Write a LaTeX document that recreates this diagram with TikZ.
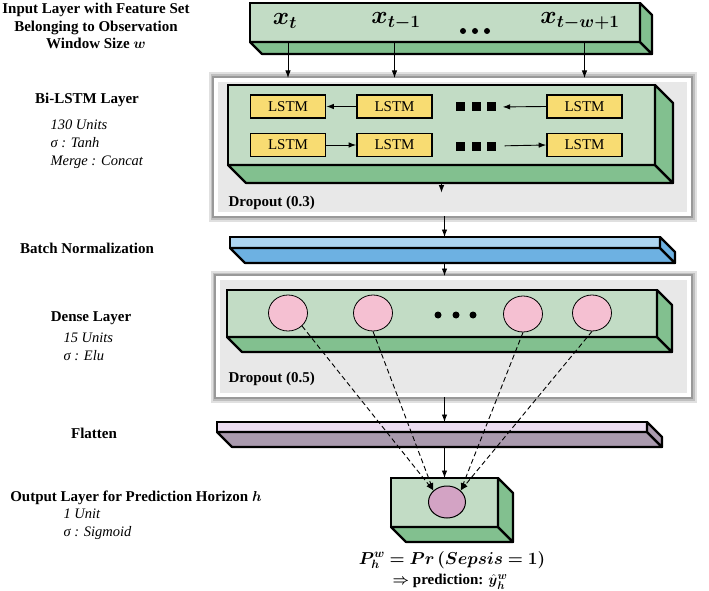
\documentclass[tikz,border=0pt]{standalone}
\usepackage{fontspec}
\setmainfont{Liberation Serif}
\usepackage{amsmath,bm}
\usetikzlibrary{arrows.meta,shapes.geometric,positioning}

\definecolor{frontgreen}{HTML}{C2DCC5}
\definecolor{sidegreen}{HTML}{82C08F}
\definecolor{lstmyellow}{HTML}{F8DC72}
\definecolor{neuronpink}{HTML}{F5C0D2}
\definecolor{frontblue}{HTML}{ADD5F1}
\definecolor{sideblue}{HTML}{6DB1E2}
\definecolor{frontlilac}{HTML}{EBDCF0}
\definecolor{sidelilac}{HTML}{AA9AAE}
\definecolor{outmauve}{HTML}{D3A3C4}
\definecolor{framegray}{HTML}{E8E8E8}

% bottom and side faces of a slab: node, depth, colour
\newcommand{\slabdepth}[3]{%
  \draw[slabline,fill=#3] (#1.south west) -- (#1.south east) -- ++(#2,#2) -- ([shift={(#2,#2)}]#1.south west) -- cycle;
  \draw[slabline,fill=#3] (#1.south east) -- (#1.north east) -- ++(#2,#2) -- ([shift={(#2,#2)}]#1.south east) -- cycle;
  \coordinate (#1-b) at ([shift={(0,#2)}]#1.south);}

\begin{document}
\begin{tikzpicture}[x=1pt, y=-1pt, font=\fontsize{15}{18}\selectfont,
    slab/.style={draw, line width=2.2pt, outer sep=0pt, inner sep=0pt},
    slabline/.style={line width=2.2pt, line join=round},
    frame/.style={fill=framegray, draw=white, line width=4pt,
      preaction={draw=black!12, line width=15pt}, preaction={draw=black!25, line width=11pt},
      preaction={draw=black!40, line width=8pt}},
    lstm/.style={draw, line width=1.6pt, fill=lstmyellow, minimum width=75pt, minimum height=23pt},
    neuron/.style={ellipse, draw, line width=0.8pt, fill=neuronpink, minimum width=39pt, minimum height=36pt},
    arr/.style={-{Latex[length=7.5pt,width=5.5pt]}, line width=0.9pt},
    dotnode/.style={circle, fill=black, inner sep=0pt, minimum size=7pt},
    sqnode/.style={fill=black, inner sep=0pt, minimum size=9pt},
    xlab/.style={font=\fontsize{24}{26}\selectfont},
    title/.style={font=\fontsize{15}{17.5}\selectfont\bfseries, align=center},
    info/.style={font=\fontsize{14.5}{18}\selectfont\itshape, align=left, anchor=west}]
\useasboundingbox (0,0) rectangle (709,591);

% left column
\node[title] (tin) at (96,26) {Input Layer with Feature Set\\Belonging to Observation\\Window Size $\boldsymbol{w}$};
\node[title] (tbi) at (87,100) {Bi-LSTM Layer};
\node[info] (ibi) at (47,144) {130 Units\\σ : Tanh\\Merge : Concat};
\node[title] (tbn) at (87,248) {Batch Normalization};
\node[title] (tdn) at (91,318) {Dense Layer};
\node[info] (idn) at (60,347) {15 Units\\σ : Elu};
\node[title] (tfl) at (94,433) {Flatten};
\node[title] (tout) at (136,498) {Output Layer for Prediction Horizon $\boldsymbol{h}$};
\node[info] (iout) at (60,524.5) {1 Unit\\σ : Sigmoid};

% dropout frames
\node[frame, minimum width=473pt, minimum height=134pt] (biframe) at (452.5,147) {};
\node[frame, minimum width=471pt, minimum height=117pt] (dframe) at (453.5,336.5) {};
\node[font=\fontsize{15}{18}\selectfont\bfseries, anchor=west] (drop3) at (225,203) {Dropout (0.3)};
\node[font=\fontsize{15}{18}\selectfont\bfseries, anchor=west] (drop5) at (225,379) {Dropout (0.5)};

% slabs
\node[slab, fill=frontgreen, minimum width=390pt, minimum height=39pt] (inp) at (445,22.5) {};
\slabdepth{inp}{12}{sidegreen}
\node[slab, fill=frontgreen, minimum width=427pt, minimum height=80pt] (bi) at (441.5,125) {};
\slabdepth{bi}{18}{sidegreen}
\node[slab, fill=frontblue, minimum width=430pt, minimum height=11pt] (bn) at (445,242.5) {};
\slabdepth{bn}{15}{sideblue}
\node[slab, fill=frontgreen, minimum width=430pt, minimum height=47pt] (dn) at (442,313.5) {};
\slabdepth{dn}{15}{sidegreen}
\node[slab, fill=frontlilac, minimum width=430pt, minimum height=10pt] (fl) at (432,427) {};
\slabdepth{fl}{15}{sidelilac}
\node[slab, fill=frontgreen, minimum width=107pt, minimum height=49pt] (out) at (444.5,502.5) {};
\slabdepth{out}{15}{sidegreen}

% input features
\node[xlab] (xt) at (285,21) {$\boldsymbol{x}_{\boldsymbol{t}}$};
\node[xlab] (xt1) at (396,21) {$\boldsymbol{x}_{\boldsymbol{t-1}}$};
\node[xlab] (xtw) at (580,21) {$\boldsymbol{x}_{\boldsymbol{t-w+1}}$};
\foreach \i/\xx in {1/463,2/475,3/487}
  \node[dotnode, minimum size=6pt] (idot\i) at (\xx,31) {};

% lstm cells
\node[lstm] (bw1) at (288,106.5) {LSTM};
\node[lstm] (bw2) at (394.5,106.5) {LSTM};
\node[lstm] (bw3) at (584.5,106.5) {LSTM};
\node[lstm] (fw1) at (288,145) {LSTM};
\node[lstm] (fw2) at (394.5,145) {LSTM};
\node[lstm] (fw3) at (584.5,145) {LSTM};
\foreach \i/\xx in {1/460,2/476,3/491} {
  \node[sqnode] (sqt\i) at (\xx,107) {};
  \node[sqnode] (sqb\i) at (\xx,146) {};
}

% dense neurons
\node[neuron] (d1) at (288,313) {};
\node[neuron] (d2) at (373,313) {};
\node[neuron] (d3) at (523,314) {};
\node[neuron] (d4) at (592,313) {};
\foreach \i/\xx in {1/438,2/456,3/473}
  \node[dotnode] (ddot\i) at (\xx,315) {};
\node[neuron, fill=outmauve, line width=1pt, minimum width=37pt, minimum height=32pt] (o) at (447,502) {};

% output text
\node[font=\fontsize{17}{20}\selectfont, inner sep=1pt] (prob) at (452,560) {$\boldsymbol{P_h^w = Pr\,(Sepsis = 1)}$};
\node[inner sep=1pt] (pred) at (450,582) {$\boldsymbol{\Rightarrow}$ \textbf{prediction:} $\hat{\boldsymbol{y}}{}_{\boldsymbol{h}}^{\boldsymbol{w}}$};

% arrows
\draw[arr] (bw1 |- inp.south) -- (bw1 |- biframe.north);
\draw[arr] (bw2 |- inp.south) -- (bw2 |- biframe.north);
\draw[arr] (bw3 |- inp.south) -- (bw3 |- biframe.north);
\draw[arr] (bw2.west) -- (bw1.east);
\draw[arr, shorten >=7pt] (bw3.west) -- (sqt3.east);
\draw[arr] (fw1.east) -- (fw2.west);
\draw[arr, shorten <=9pt] (sqb3.east) -- (fw3.west);
\draw[arr] (bi-b) -- (bi-b |- drop3.north);
\draw[arr] (biframe.south -| out) -- (bn.north -| out);
\draw[arr] (bn-b -| out) -- (dframe.north -| out);
\draw[arr] (dframe.south -| out) -- (fl.north -| out);
\draw[arr] (fl-b -| out) -- (out.north);
\draw[arr, dash pattern=on 5pt off 3pt] (d1.south east) -- (o.140);
\draw[arr, dash pattern=on 5pt off 3pt] (d2.south) -- (o.140);
\draw[arr, dash pattern=on 5pt off 3pt] (d3.south) -- (o.40);
\draw[arr, dash pattern=on 5pt off 3pt] (d4.south) -- (o.40);
\end{tikzpicture}
\end{document}
